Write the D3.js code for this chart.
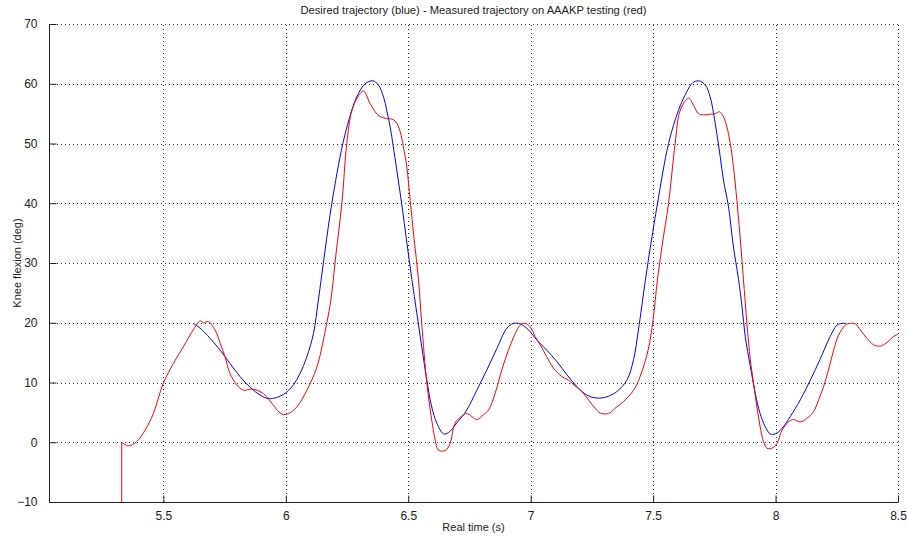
<!DOCTYPE html>
<html>
<head>
<meta charset="utf-8">
<script src="https://cdn.jsdelivr.net/npm/d3@7"></script>
<style>
  html, body { margin: 0; padding: 0; background: #fff; }
  svg { display: block; }
  text { font-family: "Liberation Sans", Arial, Helvetica, sans-serif; fill: #222; }
</style>
</head>
<body>
<svg id="chart" width="907" height="540"></svg>
<script>
// ---- data ----
const titleText = "Desired trajectory (blue) - Measured trajectory on AAAKP testing (red)";
const xLabel = "Real time (s)";
const yLabel = "Knee flexion (deg)";
const xTicks = [5.5, 6, 6.5, 7, 7.5, 8, 8.5];
const yTicks = [-10, 0, 10, 20, 30, 40, 50, 60, 70];
const xDomain = [5.033, 8.5];
const yDomain = [-10, 70];

// Desired trajectory (blue)
const desiredT = [5.622,5.650,5.691,5.732,5.772,5.813,5.854,5.895,5.929,5.963,5.997,6.031,6.058,6.086,6.113,6.133,6.160,6.188,6.233,6.270,6.297,6.324,6.355,6.378,6.399,6.412,6.426,6.439,6.453,6.474,6.494,6.515,6.535,6.555,6.576,6.596,6.617,6.644,6.664,6.698,6.739,6.780,6.821,6.862,6.903,6.930,6.957,6.991,7.025,7.066,7.107,7.148,7.189,7.229,7.270,7.311,7.352,7.393,7.420,7.440,7.468,7.492,7.518,7.563,7.604,7.638,7.660,7.685,7.713,7.733,7.747,7.760,7.774,7.787,7.808,7.827,7.849,7.863,7.876,7.897,7.917,7.937,7.958,7.978,7.999,8.026,8.060,8.101,8.142,8.183,8.223,8.251,8.271,8.285];
const desiredDeg = [19.9,19.1,17.4,15.4,13.2,11.0,9.2,7.9,7.3,7.5,8.2,9.6,11.5,14.3,18.2,23.8,32,40,50,55.6,58.4,60.0,60.5,59.8,57.8,55.6,52.8,49.5,45.6,39.7,33.5,27.2,21.6,16.0,10.4,5.9,3.2,1.4,1.6,3.2,5.4,8.7,12.1,15.7,19.1,19.9,19.8,18.8,17.1,15.4,13.5,11.3,9.3,7.9,7.4,7.6,8.5,10.4,13.8,18.8,27,33.5,40,50,55.6,58.7,60.1,60.5,59.8,57.8,55.0,51.7,47.8,43.9,39.4,33,27.2,22.7,17.7,12.7,8.2,4.8,2.6,1.4,1.4,2.3,4.3,7.1,10.4,14.0,17.7,19.6,19.9,19.9];

// Measured trajectory (red)
const measuredT = [5.330,5.330,5.357,5.391,5.425,5.459,5.500,5.541,5.582,5.622,5.650,5.663,5.684,5.711,5.732,5.752,5.772,5.800,5.827,5.861,5.895,5.922,5.949,5.984,6.011,6.045,6.086,6.127,6.167,6.184,6.205,6.229,6.249,6.270,6.291,6.317,6.344,6.365,6.385,6.412,6.439,6.453,6.467,6.480,6.494,6.508,6.524,6.542,6.555,6.576,6.596,6.610,6.623,6.651,6.671,6.691,6.719,6.739,6.760,6.780,6.807,6.828,6.855,6.882,6.909,6.937,6.957,6.977,6.998,7.018,7.039,7.066,7.093,7.127,7.154,7.182,7.209,7.236,7.263,7.284,7.318,7.345,7.379,7.420,7.447,7.480,7.500,7.517,7.537,7.563,7.590,7.611,7.645,7.665,7.685,7.706,7.733,7.754,7.771,7.787,7.801,7.815,7.828,7.842,7.856,7.869,7.883,7.897,7.910,7.924,7.937,7.951,7.965,7.985,8.006,8.026,8.053,8.073,8.101,8.128,8.155,8.176,8.196,8.216,8.237,8.257,8.285,8.305,8.326,8.346,8.373,8.400,8.428,8.455,8.482,8.500];
const measuredDeg = [-10,0,-0.6,0.1,2.0,4.8,9.9,13.2,16.0,18.8,20.3,20.0,20.2,18.8,16.6,14.3,11.5,9.6,8.7,8.9,8.5,7.6,6.2,4.7,4.8,5.9,8.7,12.6,19.9,23.8,31.5,40,50,55.6,57.6,58.8,56.7,55.3,54.5,54.2,54.0,53.4,52.0,49.5,46.1,40.5,34,27.2,19.9,9.9,3.7,0.4,-1.3,-1.4,-0.2,3.2,4.4,4.8,4.3,3.8,4.6,5.4,8.2,12.1,15.4,18.2,19.6,19.9,19.3,17.7,16.3,14.3,12.4,11.0,10.4,9.4,8.5,7.1,5.7,4.9,4.8,5.7,6.8,8.7,11.0,15.5,20.5,27,33,40,50,55.6,57.6,56.4,55.0,54.8,54.9,55.0,55.3,54.5,52.8,50.0,46.1,40.5,34,27.2,19.9,13.8,9.9,5.9,2.6,0.1,-1.0,-1.0,-0.2,2.0,3.4,3.8,3.4,4.0,5.1,7.1,9.3,12.1,15.4,17.9,19.6,19.9,19.8,18.8,17.4,16.3,16.1,16.7,17.7,18.1];

// ---- layout ----
const svg = d3.select("#chart");
const margin = {left: 49, right: 9, top: 24, bottom: 38};
const W = 907, H = 540;
const x = d3.scaleLinear().domain(xDomain).range([margin.left, W - margin.right]);
const y = d3.scaleLinear().domain(yDomain).range([H - margin.bottom, margin.top]);

svg.append("defs").append("clipPath").attr("id", "clip")
  .append("rect").attr("x", margin.left).attr("y", margin.top)
  .attr("width", W - margin.right - margin.left).attr("height", H - margin.bottom - margin.top + 0.5);

// grid
const grid = svg.append("g").attr("stroke", "#333").attr("stroke-width", 1)
  .attr("stroke-dasharray", "1,3").attr("shape-rendering", "crispEdges");
grid.selectAll("line.gx").data(xTicks).enter().append("line")
  .attr("x1", d => Math.round(x(d)) + 0.5).attr("x2", d => Math.round(x(d)) + 0.5)
  .attr("y1", y(yDomain[0])).attr("y2", y(yDomain[1]));
grid.selectAll("line.gy").data(yTicks).enter().append("line")
  .attr("y1", d => Math.round(y(d)) + 0.5).attr("y2", d => Math.round(y(d)) + 0.5)
  .attr("x1", x(xDomain[0])).attr("x2", x(xDomain[1]));

// axes
const xAxis = d3.axisBottom(x).tickValues(xTicks).tickSize(-7).tickPadding(9)
  .tickFormat(d => d3.format("")(d));
const yAxis = d3.axisLeft(y).tickValues(yTicks).tickSize(-7).tickPadding(12);

const gx = svg.append("g").attr("transform", `translate(0,${Math.round(y(yDomain[0])) + 0.5})`).call(xAxis);
const gy = svg.append("g").attr("transform", `translate(${Math.round(x(xDomain[0])) + 0.5},0)`).call(yAxis);
[gx, gy].forEach(g => {
  g.select(".domain").attr("stroke", "#222").attr("stroke-width", 1);
  g.selectAll(".tick line").attr("stroke", "#222");
  g.selectAll("text").attr("font-size", 12).attr("fill", "#222")
    .attr("font-family", "'Liberation Sans', Arial, sans-serif");
});
gx.select(".domain").attr("d", `M${x(xDomain[0])},0H${x(xDomain[1])}`);
gy.select(".domain").attr("d", `M0,${y(yDomain[0])}V${y(yDomain[1])}`);

// lines
const smooth = d3.line().x(d => x(d[0])).y(d => y(d[1])).curve(d3.curveCatmullRom.alpha(0.5));
const straight = d3.line().x(d => x(d[0])).y(d => y(d[1]));
const desired = desiredT.map((t, i) => [t, desiredDeg[i]]);
const measured = measuredT.map((t, i) => [t, measuredDeg[i]]);
const plot = svg.append("g").attr("clip-path", "url(#clip)");
plot.append("path").datum(desired).attr("d", smooth)
  .attr("fill", "none").attr("stroke", "#0000ff").attr("stroke-width", 1);
// initial step of the measured signal is a straight jump
plot.append("path").datum(measured.slice(0, 2)).attr("d", straight)
  .attr("fill", "none").attr("stroke", "#ff0000").attr("stroke-width", 1);
plot.append("path").datum(measured.slice(1)).attr("d", smooth)
  .attr("fill", "none").attr("stroke", "#ff0000").attr("stroke-width", 1);

// labels
const cx = (margin.left + W - margin.right) / 2;
svg.append("text").attr("x", cx).attr("y", 14).attr("text-anchor", "middle")
  .attr("font-size", 11.2).text(titleText);
svg.append("text").attr("x", cx).attr("y", 531).attr("text-anchor", "middle")
  .attr("font-size", 11).text(xLabel);
svg.append("text").attr("transform", `translate(21,${(margin.top + H - margin.bottom) / 2}) rotate(-90)`)
  .attr("text-anchor", "middle").attr("font-size", 11).text(yLabel);
</script>
</body>
</html>
